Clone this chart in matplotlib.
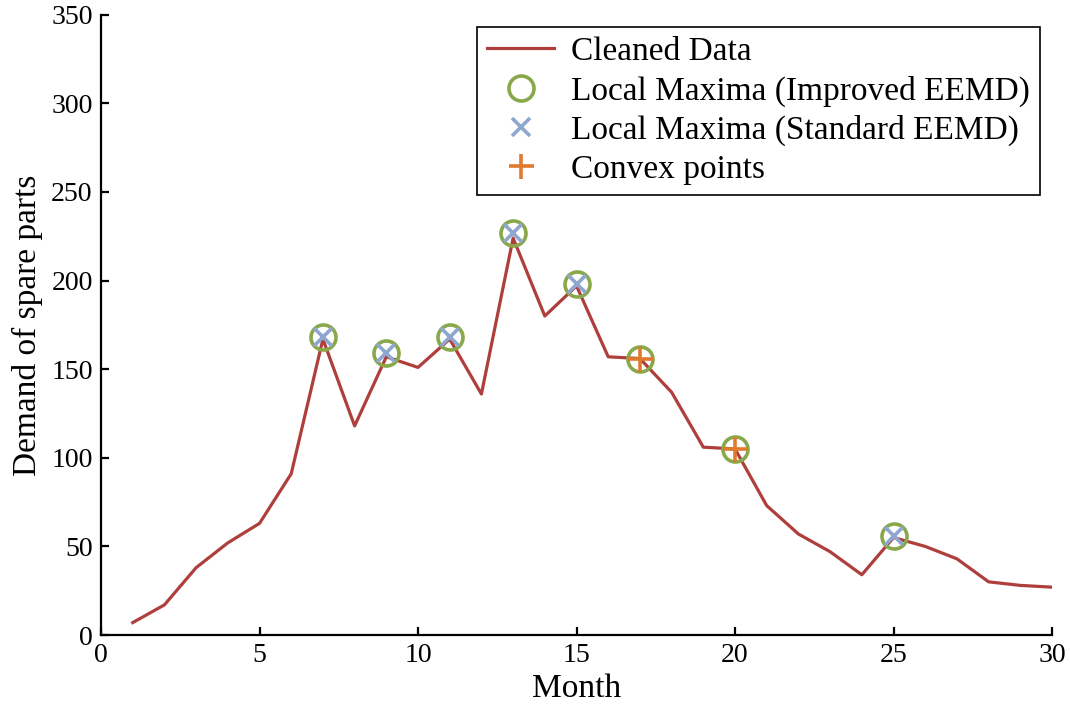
import numpy as np
import matplotlib.pyplot as plt

plt.rcParams['font.family'] = ['Liberation Serif', 'DejaVu Serif']
plt.rcParams['mathtext.fontset'] = 'stix'

# monthly demand after cleaning
months = np.arange(1, 31)
demand = [7, 17, 38, 52, 63, 91, 167, 118, 157, 151,
          167, 136, 224, 180, 197, 157, 156, 137, 106, 105,
          73, 57, 47, 34, 55, 50, 43, 30, 28, 27]

# local maxima found by improved EEMD
imp_x = [7, 9, 11, 13, 15, 17, 20, 25]
imp_y = [168, 159, 168, 227, 198, 156, 105, 56]

# local maxima found by standard EEMD
std_x = [7, 9, 11, 13, 15, 25]
std_y = [168, 159, 168, 227, 198, 56]

# convex points
cvx_x = [17, 20]
cvx_y = [156, 105]

fig = plt.figure(figsize=(10.7, 7.08), dpi=100)
ax = fig.add_axes([0.0944, 0.1031, 0.8888, 0.876])

ax.plot(months, demand, color='#AE3F3C', lw=2.3, label='Cleaned Data', zorder=2)
ax.plot(imp_x, imp_y, 'o', ms=18, mfc='none', mec='#88A84A', mew=2.6,
        label='Local Maxima (Improved EEMD)', zorder=3)
ax.plot(std_x, std_y, 'x', ms=13, mec='#8FA6CF', mew=2.6,
        label='Local Maxima (Standard EEMD)', zorder=4)
ax.plot(cvx_x, cvx_y, '+', ms=18, mec='#E07A2C', mew=2.6,
        label='Convex points', zorder=4)

ax.set_xlim(0, 30)
ax.set_ylim(0, 350)
ax.set_xticks(np.arange(0, 31, 5))
ax.set_yticks(np.arange(0, 351, 50))
ax.spines['top'].set_visible(False)
ax.spines['right'].set_visible(False)
for s in ['left', 'bottom']:
    ax.spines[s].set_linewidth(1.6)
ax.tick_params(direction='in', length=6, width=1.6, labelsize=20, pad=6)

ax.set_xlabel('Month', fontsize=24, labelpad=4)
ax.set_ylabel('Demand of spare parts', fontsize=24, labelpad=6)

leg = ax.legend(loc='upper right', bbox_to_anchor=(0.987, 0.981), borderaxespad=0,
                fontsize=24, fancybox=False, edgecolor='black', framealpha=1,
                handlelength=2.0, handletextpad=0.5, labelspacing=0.25,
                borderpad=0.3)
leg.get_frame().set_linewidth(1.2)

fig.savefig('out.png', dpi=100)
